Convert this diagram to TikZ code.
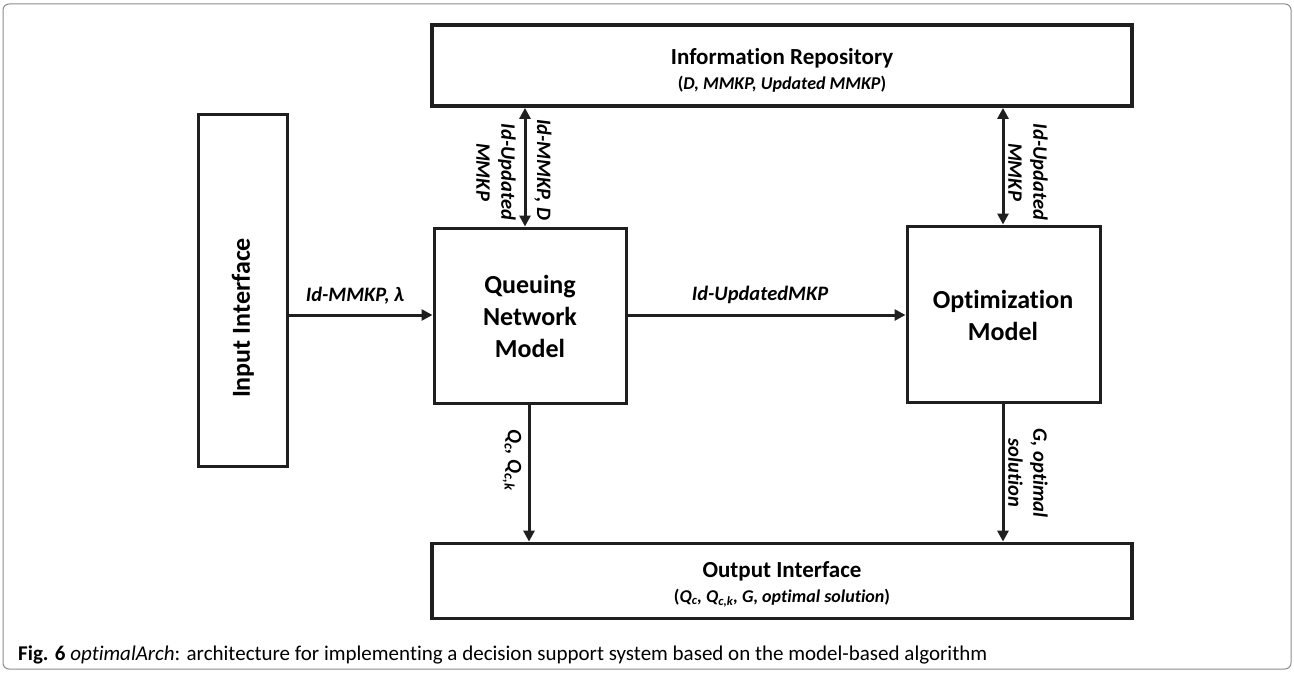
\documentclass[tikz,border=0pt]{standalone}
\usepackage{fontspec}
\setmainfont{Carlito}[Ligatures=NoCommon]
\usetikzlibrary{arrows.meta}
\begin{document}
\begin{tikzpicture}[x=1pt,y=-1pt,
  box/.style={draw=black!88, line width=3pt, inner sep=0pt},
  thickbox/.style={box, line width=3.8pt},
  boxtext/.style={align=center, inner sep=0pt, font=\bfseries\fontsize{26}{32}\selectfont},
  titletext/.style={align=center, inner sep=0pt, font=\bfseries\fontsize{23}{25}\selectfont},
  conn/.style={line width=3pt, black!88, -{Triangle[length=11pt,width=11pt]}},
  dconn/.style={line width=3pt, black!88, {Triangle[length=11pt,width=11pt]}-{Triangle[length=11pt,width=11pt]}},
  lab/.style={font=\bfseries\itshape\fontsize{20.5}{25}\selectfont, align=center, inner sep=1pt},
]
\useasboundingbox (0,0) rectangle (1294,674);
\draw[black!45, line width=1pt, rounded corners=6pt] (3,4) rectangle (1291,669);

% boxes
\node[thickbox, minimum width=700pt, minimum height=81pt] (info) at (782,65.5) {};
\node[titletext] (infot) at (782,70)
  {Information Repository\\{\fontsize{18}{20}\selectfont (\textit{D, MMKP, Updated MMKP})}};
\node[box, minimum width=89pt, minimum height=351pt] (input) at (242.5,290.5) {};
\node[boxtext, rotate=90] (inputt) at (243,318) {Input Interface};
\node[box, minimum width=192pt, minimum height=175pt] (queue) at (530,315.5) {};
\node[boxtext] (queuet) at (530,316) {Queuing\\Network\\Model};
\node[box, minimum width=193pt, minimum height=176pt] (opt) at (1003.5,314) {};
\node[boxtext] (optt) at (1003,315) {Optimization\\Model};
\node[thickbox, minimum width=700pt, minimum height=75pt] (out) at (782,581) {};
\node[titletext] (outt) at (782,584)
  {Output Interface\\{\fontsize{18}{20}\selectfont (\textit{Q\textsubscript{c}, Q\textsubscript{c,k}, G, optimal solution})}};

% connectors
\draw[dconn] (info.south -| 525,0) -- (queue.north -| 525,0);
\draw[dconn] (info.south -| 1003,0) -- (opt.north -| 1003,0);
\draw[conn] (input.east |- 0,315) -- (queue.west |- 0,315);
\draw[conn] (queue.east |- 0,315) -- (opt.west |- 0,315);
\draw[conn] (queue.south -| 529,0) -- (out.north -| 529,0);
\draw[conn] (opt.south -| 1003,0) -- (out.north -| 1003,0);

% labels
\node[lab] (l1) at (355,296) {Id-MMKP, λ};
\node[lab] (l2) at (760,295) {Id-UpdatedMKP};
\node[lab, rotate=-90] (l3) at (543,170) {Id-MMKP, D};
\node[lab, rotate=-90] (l4) at (496,172) {Id-Updated\\MMKP};
\node[lab, rotate=-90] (l5) at (1028,172) {Id-Updated\\MMKP};
\node[lab, rotate=-90] (l6) at (512,460) {Q\textsubscript{c}, Q\textsubscript{c,k}};
\node[lab, rotate=-90] (l7) at (1028,473) {G, optimal\\solution};

% caption
\node[anchor=base west, inner sep=0pt, font=\fontsize{21}{24}\selectfont] (cap) at (18,660)
  {\textbf{Fig. 6} \textit{optimalArch}: architecture for implementing a decision support system based on the model-based algorithm};
\end{tikzpicture}
\end{document}
